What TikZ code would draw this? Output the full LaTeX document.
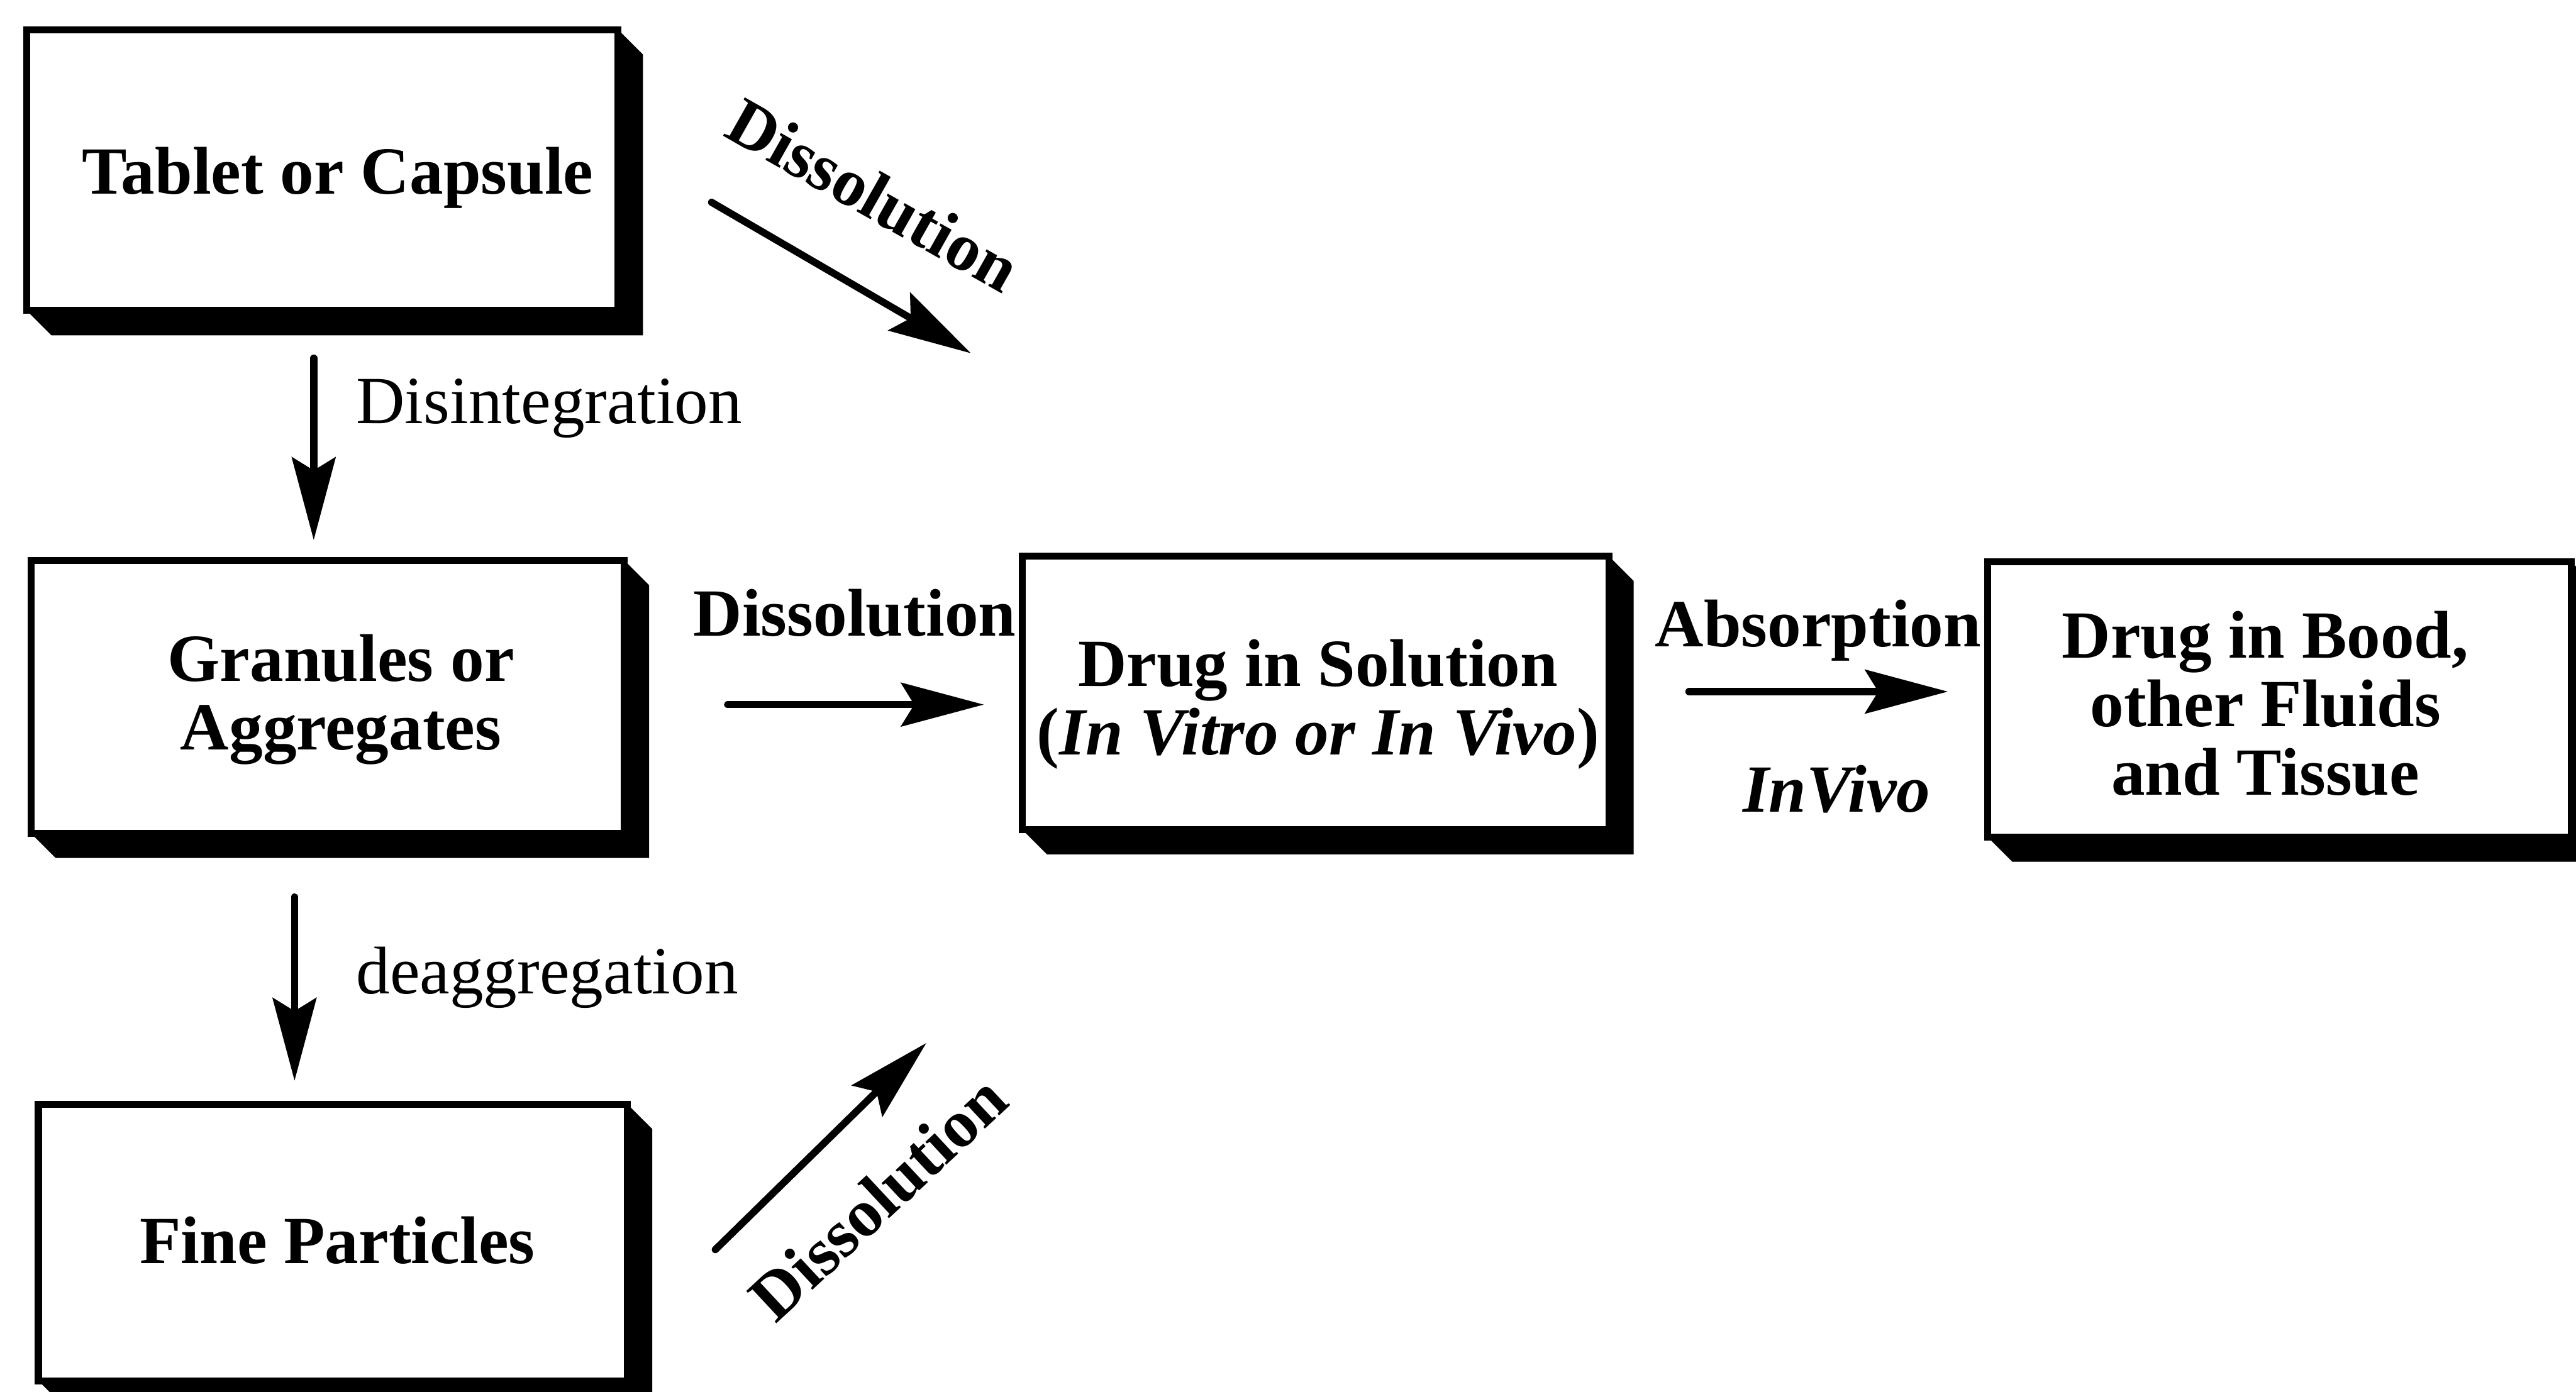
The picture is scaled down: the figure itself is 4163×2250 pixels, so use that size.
\documentclass[tikz,border=0pt]{standalone}
\usepackage{fontspec}
\setmainfont{Liberation Serif}
\usetikzlibrary{arrows.meta,calc,fit}
\tikzset{
  boxst/.style={draw, line width=3.2pt, fill=white, inner sep=0pt, outer sep=0pt},
  boxtext/.style={font=\fontsize{31}{31.5}\selectfont\bfseries, align=center, inner sep=0pt},
  lbl/.style={font=\fontsize{31}{31.5}\selectfont, inner sep=0pt},
  blbl/.style={font=\fontsize{31}{31.5}\selectfont\bfseries, inner sep=0pt},
  bilbl/.style={font=\fontsize{31}{31.5}\selectfont\bfseries\itshape, inner sep=0pt},
  arr/.style={line width=3.3pt, line cap=round, -{Stealth[length=38pt,width=20pt,inset=6pt]}},
  shadowfill/.style={fill=black},
}
\newcommand\boxshadow[1]{%
  \fill[shadowfill] (#1.south west) -- ++(40,40) -| ($(#1.north east)+(40,40)$) -- (#1.north east) -- (#1.south east) -- cycle;}
\begin{document}
\begin{tikzpicture}[x=0.01cm, y=-0.01cm]
\useasboundingbox (0,0) rectangle (4163,2250);
\clip (0,0) rectangle (4163,2250);
\fill[white] (0,0) rectangle (4163,2250);

% boxes
\node[boxst, fit={(43,48) (999,502)}] (b1) {};
\node[boxst, fit={(50,906) (1009,1347)}] (b2) {};
\node[boxst, fit={(62,1785) (1014,2232)}] (b3) {};
\node[boxst, fit={(1652,899) (2600,1341)}] (b4) {};
\node[boxst, fit={(3212,908) (4155,1353)}] (b5) {};
\boxshadow{b1}
\boxshadow{b2}
\boxshadow{b3}
\boxshadow{b4}
\boxshadow{b5}

% box texts
\node[boxtext, anchor=base] (t1) at (546,314) {Tablet or Capsule};
\node[boxtext] (t2) at (551,1131) {Granules or\\Aggregates};
\node[boxtext, anchor=base] (t3) at (545,2042) {Fine Particles};
\node[boxtext] (t4) at (2130,1139) {Drug in Solution\\(\textit{In Vitro or In Vivo})};
\node[boxtext] (t5) at (3661,1137) {Drug in Bood,\\other Fluids\\and Tissue};

% labels
\node[lbl, anchor=base west] (l1) at (575,685) {Disintegration};
\node[lbl, anchor=base west] (l2) at (575,1606) {deaggregation};
\node[blbl, anchor=base west] (l3) at (1120,1028) {Dissolution};
\node[blbl, anchor=base west] (l4) at (2674,1045) {Absorption};
\node[bilbl, anchor=base] (l5) at (2968,1313) {InVivo};
\node[blbl, rotate=-29.5] (l6) at (1412,315) {Dissolution};
\node[blbl, rotate=43] (l7) at (1419,1936) {Dissolution};

% arrow end points
\coordinate (a1s) at (507,579);  \coordinate (a1e) at (507,873);
\coordinate (a2s) at (476,1450); \coordinate (a2e) at (476,1747);
\coordinate (a3s) at (1150,327); \coordinate (a3e) at (1569,571);
\coordinate (a4s) at (1176,1139); \coordinate (a4e) at (1590,1139);
\coordinate (a5s) at (1156,2020); \coordinate (a5e) at (1497,1686);
\coordinate (a6s) at (2730,1118); \coordinate (a6e) at (3148,1118);

\draw[arr] (a1s) -- (a1e);
\draw[arr] (a2s) -- (a2e);
\draw[arr] (a3s) -- (a3e);
\draw[arr] (a4s) -- (a4e);
\draw[arr] (a5s) -- (a5e);
\draw[arr, line width=3.6pt] (a6s) -- (a6e);
\end{tikzpicture}
\end{document}
